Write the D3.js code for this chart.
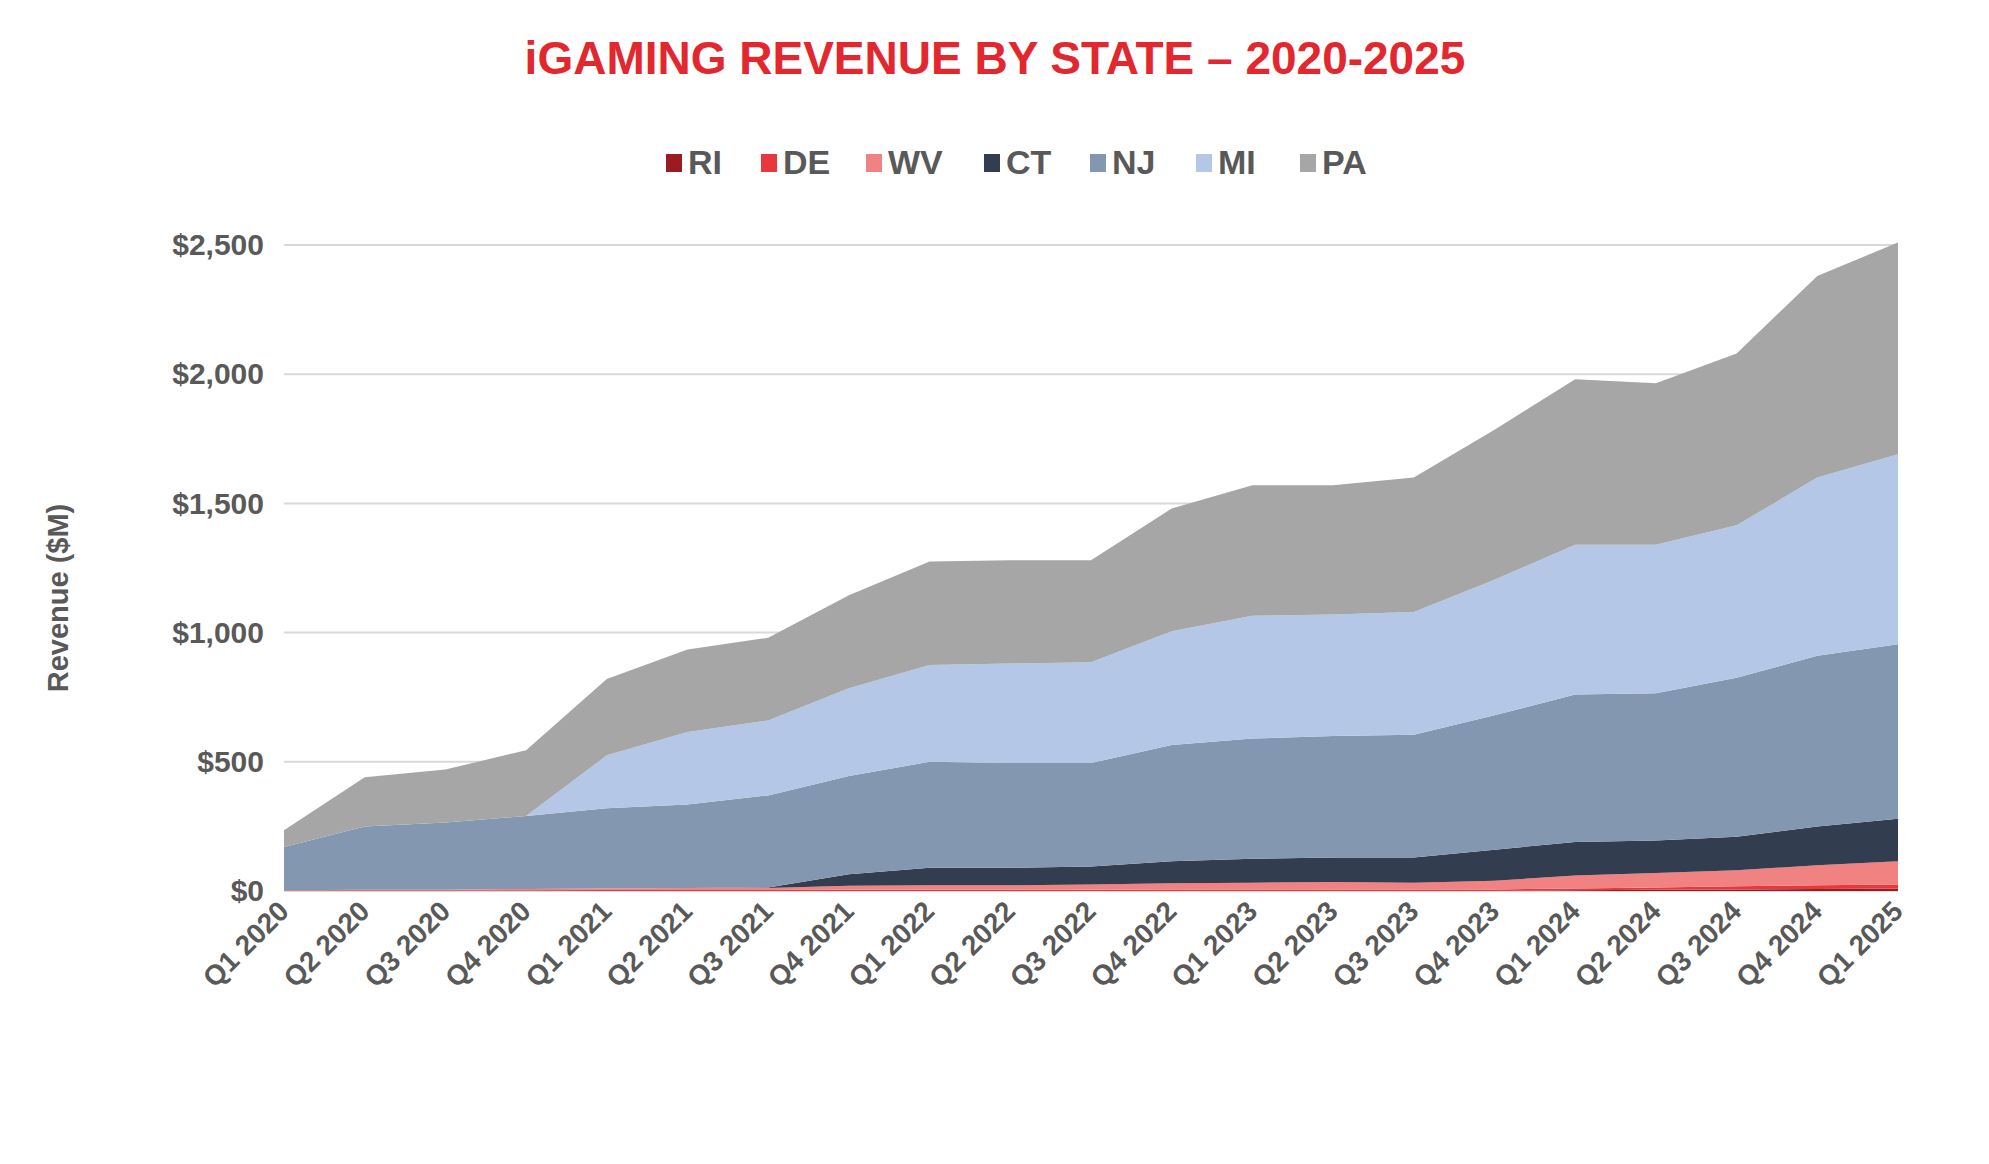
<!DOCTYPE html>
<html><head><meta charset="utf-8">
<script src="https://cdn.jsdelivr.net/npm/d3@7"></script>
<style>
body{margin:0;background:#fff;}
text{font-family:"Liberation Sans",Arial,sans-serif;}
</style></head>
<body><svg id="chart" width="1989" height="1164"></svg>
<script>
const quarters = ['Q1 2020','Q2 2020','Q3 2020','Q4 2020','Q1 2021','Q2 2021','Q3 2021','Q4 2021','Q1 2022','Q2 2022','Q3 2022','Q4 2022','Q1 2023','Q2 2023','Q3 2023','Q4 2023','Q1 2024','Q2 2024','Q3 2024','Q4 2024','Q1 2025'];
const states = ['RI','DE','WV','CT','NJ','MI','PA'];
const colors = ['#9b1c20','#e8383d','#f08282','#333d50','#8497b0','#b4c7e7','#a6a6a6'];
const RI = [0,0,0,0,0,0,0,0,0,0,0,0,0,0,0,0,3,5,6,8,10];
const DE = [2,3,3,3,4,4,4,5,5,5,5,6,6,6,6,6,7,9,12,14,15];
const WV = [1,2,2,5,6,8,8,15,17,17,20,24,26,29,26,34,50,56,62,78,90];
const CT = [0,0,0,0,0,0,2,45,68,68,70,85,93,95,98,120,130,125,130,150,165];
const NJ = [167,245,260,282,310,323,356,380,410,405,400,450,465,470,475,520,570,570,615,660,675];
const MI = [0,0,0,0,205,280,290,340,375,385,390,440,475,470,475,525,580,575,590,690,735];
const PA = [65,190,205,255,295,320,320,360,400,400,395,475,505,500,520,580,640,625,665,780,820];
const yTicks = [0,500,1000,1500,2000,2500];

const series = { RI, DE, WV, CT, NJ, MI, PA };
const rows = quarters.map((q, i) => {
  const r = { q };
  states.forEach(s => r[s] = series[s][i]);
  return r;
});

const svg = d3.select('#chart');
const L = 284, R = 1898, T = 245, B = 891;
const x = d3.scalePoint().domain(quarters).range([L, R]);
const y = d3.scaleLinear().domain([0, 2500]).range([B, T]);
const grey = '#595959';

// gridlines
svg.append('g').selectAll('line').data(yTicks).enter().append('line')
  .attr('x1', L).attr('x2', R).attr('y1', d => y(d)).attr('y2', d => y(d))
  .attr('stroke', '#d9d9d9').attr('stroke-width', 2);

const stacked = d3.stack().keys(states)(rows);
const area = d3.area().x(d => x(d.data.q)).y0(d => y(d[0])).y1(d => y(d[1]));
svg.append('g').selectAll('path').data(stacked).enter().append('path')
  .attr('d', area).attr('fill', (d, i) => colors[i]);

// y axis
const yAxis = svg.append('g').attr('transform', `translate(${L},0)`)
  .call(d3.axisLeft(y).tickValues(yTicks).tickSize(0).tickPadding(20).tickFormat(d => '$' + d3.format(',')(d)));
yAxis.select('.domain').remove();
yAxis.selectAll('text').attr('font-size', 30).attr('font-weight', 'bold').attr('fill', grey);

// x axis
const xAxis = svg.append('g').attr('transform', `translate(0,${B})`)
  .call(d3.axisBottom(x).tickSize(0).tickPadding(0));
xAxis.select('.domain').remove();
xAxis.selectAll('text').attr('font-size', 28).attr('font-weight', 'bold').attr('fill', grey)
  .attr('text-anchor', 'end').attr('dy', 0)
  .attr('transform', 'translate(6,22) rotate(-45)');

// y label
svg.append('text').attr('transform', 'translate(68,598) rotate(-90)')
  .attr('text-anchor', 'middle').attr('font-size', 29).attr('font-weight', 'bold').attr('fill', grey)
  .text('Revenue ($M)');

// title
svg.append('text').attr('x', 995).attr('y', 74).attr('text-anchor', 'middle')
  .attr('font-family', '"Liberation Sans Narrow",sans-serif').attr('font-weight', 'bold')
  .attr('font-size', 46).attr('fill', '#e3272f').text('iGAMING REVENUE BY STATE – 2020-2025');

// legend
const legendX = [666, 761, 866, 984, 1090, 1196, 1300];
const lg = svg.append('g').selectAll('g').data(states).enter().append('g')
  .attr('transform', (d, i) => `translate(${legendX[i]},162)`);
lg.append('rect').attr('x', 0).attr('y', -8).attr('width', 16).attr('height', 18).attr('fill', (d, i) => colors[i]);
lg.append('text').attr('x', 22).attr('y', 12).attr('font-size', 34).attr('font-weight', 'bold')
  .attr('font-family', '"Liberation Sans Narrow",sans-serif').attr('fill', grey).text(d => d);
</script></body></html>
